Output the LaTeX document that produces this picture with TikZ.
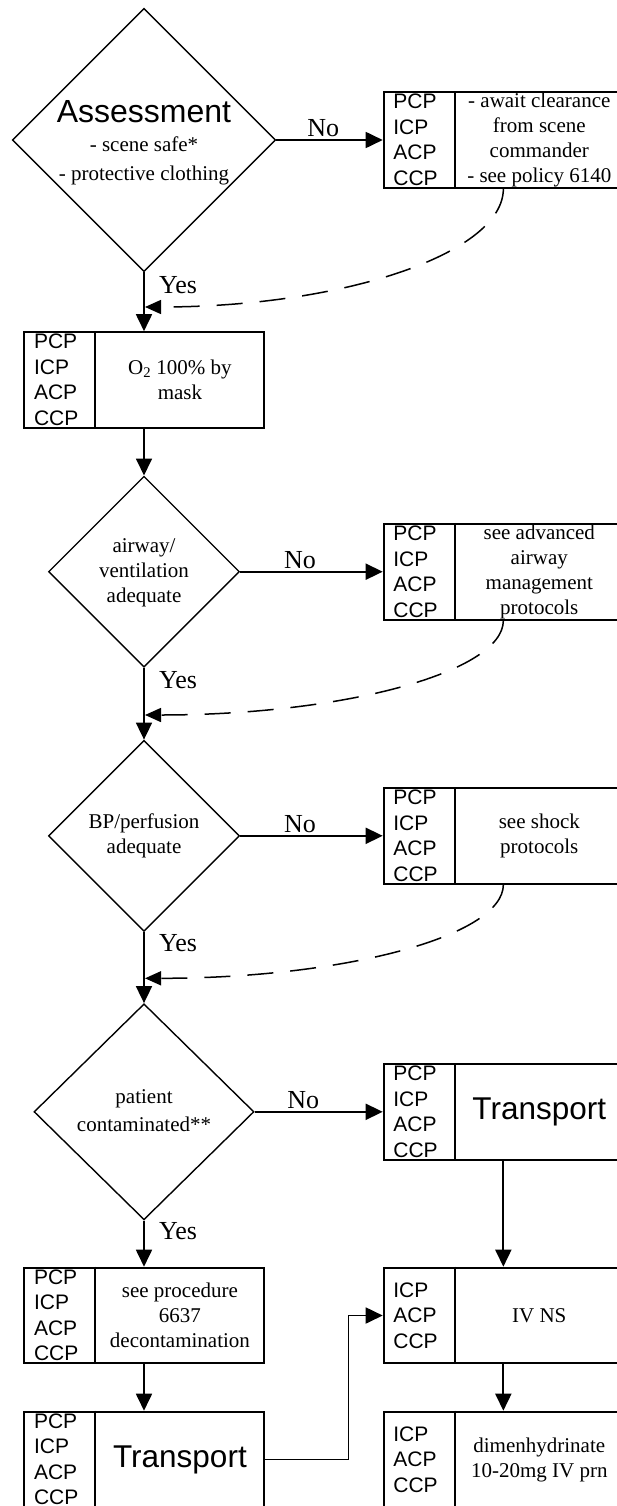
\documentclass[tikz,border=0pt]{standalone}
\usepackage{fontspec}
\setmainfont{Liberation Serif}
\setsansfont{Liberation Sans}
\usetikzlibrary{shapes.geometric,arrows.meta,calc}
\newcommand{\bigsf}{\sffamily\fontsize{31.5}{36}\selectfont}
\newcommand{\cpbox}[4]{%
  \node[pbox] (#1) at (#2) {};
  \draw[divl] ([xshift=71.9pt]#1.north west) -- ([xshift=71.9pt]#1.south west);
  \node[lab, anchor=west] (#1l) at ([xshift=10.5pt]#1.west) {#3};
  \node[txt] (#1t) at ([xshift=35.95pt]#1.center) {#4};
}
\tikzset{
  pbox/.style={draw, line width=2pt, minimum width=239.3pt, minimum height=95.6pt, inner sep=0pt},
  divl/.style={line width=2pt},
  dia/.style={draw, diamond, line width=1.4pt, inner sep=0pt},
  arr/.style={line width=1.8pt, -{Triangle[length=17pt,width=16pt]}},
  dasharr/.style={line width=1.5pt, dash pattern=on 26pt off 17pt, -{Triangle[length=16pt,width=14pt]}},
  lab/.style={font=\sffamily\fontsize{21}{25.5}\selectfont, align=left, inner sep=0pt},
  txt/.style={font=\fontsize{21}{25}\selectfont, align=center, inner sep=0pt},
  yn/.style={font=\fontsize{26}{30}\selectfont, inner sep=0pt},
}
\begin{document}
\begin{tikzpicture}[x=1pt,y=-1pt]
\useasboundingbox (0,0) rectangle (617,1506);

% diamonds
\node[dia, minimum width=263.5pt, minimum height=263.5pt] (d1) at (144,140) {};
\node[txt, font=\fontsize{21}{29}\selectfont] (d1t) at (144,143) {{\sffamily\fontsize{32}{29}\selectfont Assessment}\\- scene safe*\\- protective clothing};
\node[dia, minimum width=191pt, minimum height=191pt] (d2) at (144,571.7) {};
\node[txt] (d2t) at (144,572.5) {airway/\\ventilation\\adequate};
\node[dia, minimum width=191pt, minimum height=191pt] (d3) at (144,835.8) {};
\node[txt] (d3t) at (144,836) {BP/perfusion\\adequate};
\node[dia, minimum width=220pt, minimum height=216pt] (d4) at (144,1111.8) {};
\node[txt, font=\fontsize{21}{28}\selectfont] (d4t) at (144,1111) {patient\\contaminated**};

% boxes
\cpbox{b1}{503.35,140}{PCP\\ICP\\ACP\\CCP}{- await clearance\\from scene\\commander\\- see policy 6140}
\cpbox{b2}{144,380}{PCP\\ICP\\ACP\\CCP}{O\textsubscript{2} 100\% by\\mask}
\cpbox{b3}{503.35,571.7}{PCP\\ICP\\ACP\\CCP}{see advanced\\airway\\management\\protocols}
\cpbox{b4}{503.35,835.8}{PCP\\ICP\\ACP\\CCP}{see shock\\protocols}
\cpbox{b5}{503.35,1111.8}{PCP\\ICP\\ACP\\CCP}{{\bigsf Transport}}
\cpbox{b6}{144,1315.5}{PCP\\ICP\\ACP\\CCP}{see procedure\\6637\\decontamination}
\cpbox{b7}{503.35,1315.5}{ICP\\ACP\\CCP}{IV NS}
\cpbox{b8}{144,1459.5}{PCP\\ICP\\ACP\\CCP}{{\bigsf Transport}}
\cpbox{b9}{503.35,1459.5}{ICP\\ACP\\CCP}{dimenhydrinate\\10-20mg IV prn}

% No arrows
\draw[arr] (d1.east) -- node[yn, anchor=base, pos=0.44, yshift=3.5pt] (no1) {No} (b1.west);
\draw[arr] (d2.east) -- node[yn, anchor=base, pos=0.42, yshift=3.5pt] (no2) {No} (b3.west);
\draw[arr] (d3.east) -- node[yn, anchor=base, pos=0.42, yshift=3.5pt] (no3) {No} (b4.west);
\draw[arr] (d4.east) -- node[yn, anchor=base, pos=0.38, yshift=3.5pt] (no4) {No} (b5.west);

% Yes arrows
\draw[arr] (d1.south) -- (b2.north);
\node[yn, anchor=base west] (yes1) at (159,293.6) {Yes};
\draw[arr] (b2.south) -- (d2.north);
\draw[arr] (d2.south) -- (d3.north);
\node[yn, anchor=base west] (yes2) at (159,688.6) {Yes};
\draw[arr] (d3.south) -- (d4.north);
\node[yn, anchor=base west] (yes3) at (159,951.6) {Yes};
\draw[arr] (d4.south) -- (b6.north);
\node[yn, anchor=base west] (yes4) at (159,1239.6) {Yes};

% right column and bottom
\draw[arr] (b5.south) -- (b7.north);
\draw[arr] (b7.south) -- (b9.north);
\draw[arr] (b6.south) -- (b8.north);
\draw[arr] (b8.east) -- ++(83.8,0) |- (b7.west);

% dashed returns
\coordinate (c1) at (145,307);
\coordinate (c2) at (145,715);
\coordinate (c3) at (145,978.3);
\draw[dasharr] (b1.south) .. controls +(0,65) and +(197,0) .. (c1);
\draw[dasharr] (b3.south) .. controls +(0,52) and +(197,0) .. (c2);
\draw[dasharr] (b4.south) .. controls +(0,52) and +(197,0) .. (c3);
\end{tikzpicture}
\end{document}
